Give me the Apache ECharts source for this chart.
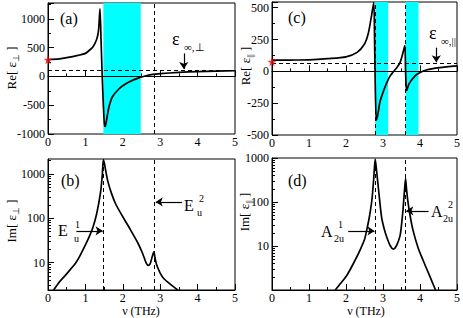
<!DOCTYPE html>
<html><head><meta charset="utf-8">
<script src="https://cdn.jsdelivr.net/npm/echarts@6/dist/echarts.min.js"></script>
<style>html,body{margin:0;padding:0;background:#fff}#c{width:463px;height:318px}</style>
</head><body><div id="c"></div>
<script>
// ---- data ----
const nuReA = [0, 0.3, 0.5, 0.8, 1.0, 1.1, 1.2, 1.3, 1.35, 1.39, 1.42, 1.45, 1.48, 1.51, 1.53, 1.56, 1.63, 1.72, 1.9, 2.08, 2.26, 2.44, 2.5, 2.62, 2.8, 3.0, 3.5, 4.0, 4.5, 5.0];
const reA   = [290, 305, 325, 365, 400, 450, 510, 640, 790, 1175, 600, 0, -500, -840, -870, -780, -532, -358, -214, -127, -69, -23, -10, 12, 35, 48, 70, 84, 92, 98];
const nuImB = [0.15, 0.3, 0.47, 0.6, 0.73, 0.85, 1.0, 1.1, 1.2, 1.3, 1.4, 1.45, 1.48, 1.51, 1.54, 1.6, 1.7, 1.81, 2.0, 2.2, 2.4, 2.53, 2.62, 2.68, 2.73, 2.78, 2.83, 2.86, 2.9, 3.0, 3.1, 3.3, 3.47];
const imB   = [2.4, 3.6, 5.2, 7, 9.5, 14, 25, 38, 62, 125, 360, 900, 2100, 1700, 1230, 680, 360, 210, 108, 56, 28, 16, 10, 8.6, 9.3, 13, 17.5, 13, 9.2, 5.8, 4.3, 3.1, 2.4];
const nuReC = [0, 0.5, 1, 1.5, 2, 2.3, 2.5, 2.6, 2.68, 2.75, 2.77, 2.79, 2.82, 2.86, 2.92, 3.01, 3.1, 3.19, 3.28, 3.37, 3.46, 3.53, 3.59, 3.61, 3.64, 3.7, 3.86, 3.99, 4.17, 4.53, 5.0];
const reC   = [88, 89, 91, 100, 114, 149, 215, 295, 420, 540, 300, -100, -383, -340, -237, -157, -90, -37, -3, 29, 69, 136, 202, 0, -152, -100, -37, -11, 11, 29, 43];
const nuImD = [1.71, 1.85, 2.03, 2.2, 2.38, 2.5, 2.56, 2.63, 2.7, 2.75, 2.79, 2.83, 2.88, 2.96, 3.03, 3.1, 3.2, 3.28, 3.36, 3.46, 3.5, 3.54, 3.58, 3.61, 3.64, 3.68, 3.74, 3.81, 3.95, 4.08, 4.25, 4.42];
const imD   = [1, 1.4, 2.2, 4, 8.1, 14, 23, 45, 111, 350, 950, 480, 190, 46, 25, 16, 10, 8.5, 10, 17, 30, 66, 180, 340, 180, 93, 45, 23, 9, 4.8, 2.2, 1];
const epsStaticA = 290, epsStaticC = 75;
const epsInfA = 110, epsInfC = 60;
const modesPerp = [1.48, 2.85];
const modesPar = [2.79, 3.61];
const bandsA = [[1.48, 2.48]];
const bandsC = [[2.79, 3.14], [3.61, 3.96]];
const logMajor = [10, 100, 1000];
const logMinorB = [3,4,5,6,7,8,9,20,30,40,50,60,70,80,90,200,300,400,500,600,700,800,900,2000];
const logMinorD = [2,3,4,5,6,7,8,9,20,30,40,50,60,70,80,90,200,300,400,500,600,700,800,900];

const zip = (a, b) => a.map((v, i) => [v, b[i]]);
const FONT = 'Liberation Serif';
const plain = v => String(v);
const chart = echarts.init(document.getElementById('c'), null, {renderer: 'svg'});

function xAx(gi) {
  return {type: 'value', gridIndex: gi, min: 0, max: 5, interval: 1,
    axisLine: {show: true, lineStyle: {color: '#000', width: 1}},
    axisTick: {inside: true, length: 6, lineStyle: {color: '#000'}},
    minorTick: {show: true, splitNumber: 2, length: 3, lineStyle: {color: '#000'}},
    axisLabel: {color: '#000', fontFamily: FONT, fontSize: 12, margin: 2, formatter: plain},
    splitLine: {show: false}};
}
function yLin(gi, min, max, itv) {
  return {type: 'value', gridIndex: gi, min: min, max: max, interval: itv, position: 'left',
    axisLine: {show: true, onZero: false, lineStyle: {color: '#000', width: 1}},
    axisTick: {inside: true, length: 6, lineStyle: {color: '#000'}},
    minorTick: {show: true, splitNumber: 2, length: 3, lineStyle: {color: '#000'}},
    axisLabel: {color: '#000', fontFamily: FONT, fontSize: 12, margin: 3, showMaxLabel: false, formatter: plain},
    splitLine: {show: false}};
}
function yLog(gi, min, max) {
  return {type: 'log', gridIndex: gi, min: min, max: max, logBase: 10, position: 'left',
    axisLine: {show: true, lineStyle: {color: '#000', width: 1}},
    axisTick: {inside: true, length: 6, customValues: logMajor, lineStyle: {color: '#000'}},
    axisLabel: {color: '#000', fontFamily: FONT, fontSize: 12, margin: 3, customValues: logMajor, formatter: plain},
    splitLine: {show: false}};
}
function yLogMinor(gi, min, max, vals) {
  return {type: 'log', gridIndex: gi, min: min, max: max, logBase: 10, position: 'left',
    axisLine: {show: false},
    axisTick: {inside: true, length: 3, customValues: vals, lineStyle: {color: '#000'}},
    axisLabel: {show: false},
    splitLine: {show: false}};
}
const curve = (xi, yi, data) => ({type: 'line', xAxisIndex: xi, yAxisIndex: yi, data: data, showSymbol: false,
  smooth: 0.25, lineStyle: {color: '#000', width: 1.7}, z: 5, silent: true});
const dashV = v => ({xAxis: v});
const band = (xi, yi, bands) => ({type: 'line', xAxisIndex: xi, yAxisIndex: yi, data: [], silent: true, z: 1,
  markArea: {silent: true, itemStyle: {color: '#00FFFF', opacity: 1}, data: bands.map(b => [{xAxis: b[0]}, {xAxis: b[1]}])}});
const lines = (xi, yi, dashed, solid) => ({type: 'line', xAxisIndex: xi, yAxisIndex: yi, data: [], silent: true, z: 3,
  markLine: {silent: true, symbol: 'none', animation: false, label: {show: false},
    data: dashed.map(d => Object.assign({lineStyle: {type: [4, 3], color: '#000', width: 1}}, d))
      .concat(solid.map(d => Object.assign({lineStyle: {type: 'solid', color: '#000', width: 1}}, d)))}});
const arrow = (xi, yi, segs) => ({type: 'line', xAxisIndex: xi, yAxisIndex: yi, data: [], silent: true, z: 6,
  markLine: {silent: true, symbol: ['none', 'arrow'], symbolSize: 7, animation: false, label: {show: false},
    lineStyle: {type: 'solid', color: '#000', width: 1.2},
    data: segs.map(s => [{coord: s[0]}, {coord: s[1]}])}});
const STAR = 'path://M50,0 L61,35 L98,35 L68,57 L79,91 L50,70 L21,91 L32,57 L2,35 L39,35 Z';
const star = (xi, yi, v) => ({type: 'scatter', xAxisIndex: xi, yAxisIndex: yi, data: [[0, v]], symbol: STAR, symbolSize: 9,
  itemStyle: {color: '#ff0000'}, clip: false, z: 7, silent: true});

const T = (x, y, text, size, extra) => Object.assign({type: 'text', x: x, y: y, silent: true,
  style: Object.assign({text: text, fill: '#000', font: size + 'px ' + FONT, align: 'left', verticalAlign: 'middle'}, extra || {})});
const yTitle = (x, y, main, sub) => ({type: 'text', x: x, y: y, rotation: Math.PI / 2, silent: true,
  style: {text: main + '{s|' + sub + '}{m| ]}', fill: '#000', font: '13px ' + FONT, align: 'center', verticalAlign: 'middle',
    rich: {s: {fontSize: 9, fontFamily: FONT, verticalAlign: 'bottom', lineHeight: 18}, m: {fontSize: 13, fontFamily: FONT, lineHeight: 18}}}});

const option = {
  animation: false,
  grid: [
    {left: 48, top: 3, width: 187, height: 131, show: true, borderColor: '#000', borderWidth: 1},
    {left: 48, top: 159, width: 187, height: 131, show: true, borderColor: '#000', borderWidth: 1},
    {left: 272, top: 2, width: 188, height: 133, show: true, borderColor: '#000', borderWidth: 1},
    {left: 272, top: 158, width: 188, height: 132, show: true, borderColor: '#000', borderWidth: 1}
  ],
  xAxis: [xAx(0), xAx(1), xAx(2), xAx(3)],
  yAxis: [yLin(0, -1000, 1275, 500), yLog(1, 2.4, 2180), yLin(2, -500, 545, 250), yLog(3, 1, 1000),
          yLogMinor(1, 2.4, 2180, logMinorB), yLogMinor(3, 1, 1000, logMinorD)],
  series: [
    band(0, 0, bandsA), band(2, 2, bandsC),
    lines(0, 0, [dashV(modesPerp[1]), {yAxis: epsInfA}], [{yAxis: 0}]),
    lines(1, 1, modesPerp.map(dashV), []),
    lines(2, 2, [dashV(modesPar[0]), dashV(modesPar[1]), {yAxis: epsInfC}], [{yAxis: 0}]),
    lines(3, 3, modesPar.map(dashV), []),
    curve(0, 0, zip(nuReA, reA)), curve(1, 1, zip(nuImB, imB)),
    curve(2, 2, zip(nuReC, reC)), curve(3, 3, zip(nuImD, imD)),
    star(0, 0, epsStaticA), star(2, 2, epsStaticC),
    arrow(0, 0, [[[3.63, 400], [3.63, 130]]]),
    arrow(2, 2, [[[4.44, 186], [4.44, 72]]]),
    arrow(1, 1, [[[0.76, 52], [1.46, 52]], [[3.58, 234], [2.88, 234]]]),
    arrow(3, 3, [[[2.06, 22], [2.77, 22]], [[4.23, 63], [3.63, 63]]])
  ],
  graphic: [
    T(60, 18, '(a)', 16), T(61, 180, '(b)', 16), T(288, 17, '(c)', 16), T(288, 180, '(d)', 16),
    yTitle(11, 68, 'Re[ ε', '⊥'), yTitle(11, 221, 'Im[ ε', '⊥'),
    yTitle(245, 66, 'Re[ ε', '||'), yTitle(244, 212, 'Im[ ε', '||'),
    T(141, 311, 'ν (THz)', 12, {align: 'center'}), T(366, 311, 'ν (THz)', 12, {align: 'center'}),
    // eps infinity labels
    T(172, 39, 'ε', 18), T(184, 47, '∞,⊥', 11),
    T(429, 33, 'ε', 18), T(441, 41, '∞,||', 11),
    // mode labels
    T(58, 230, 'E', 16), T(75, 224, '1', 10), T(74, 238, 'u', 10),
    T(184, 205, 'E', 16), T(199, 198, '2', 10), T(197, 212, 'u', 10),
    T(321, 231, 'A', 16), T(338, 224, '1', 10), T(334, 238, '2u', 10),
    T(431, 211, 'A', 16), T(448, 204, '2', 10), T(443, 218, '2u', 10)
  ]
};
chart.setOption(option);
</script></body></html>
